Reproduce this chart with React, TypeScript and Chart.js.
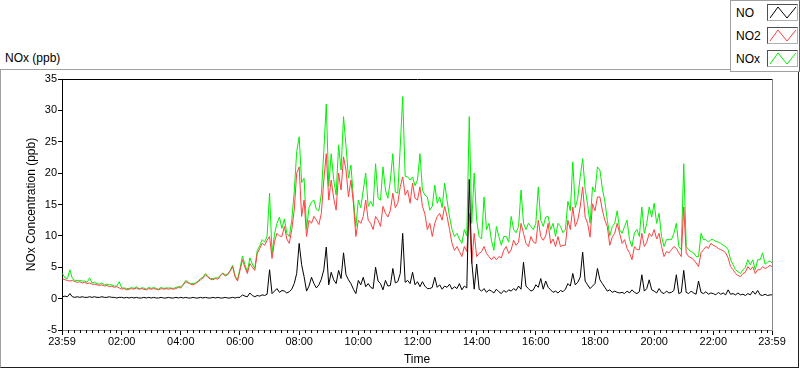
import React, { useEffect, useRef } from "react";
import { Chart, registerables } from "chart.js";

Chart.register(...registerables);

// Samples every 5 minutes, 00:00 .. 23:55, plus the final 23:59 reading
const SAMPLE_STEP_MIN = 5;
const LAST_MINUTE = 1439;

const NO_PPB = [
  0.3, 0.4, 0.3, 0.8, 0.3, 0.2, 0.3, 0.2, 0.3, 0.2, 0.2, 0.3,
  0.2, 0.3, 0.2, 0.2, 0.3, 0.2, 0.2, 0.3, 0.2, 0.2, 0.1, 0.2,
  0.2, 0.1, 0.2, 0.1, 0.2, 0.1, 0.2, 0.1, 0.1, 0.2, 0.1, 0.2,
  0.1, 0.2, 0.1, 0.1, 0.2, 0.1, 0.1, 0.2, 0.1, 0.1, 0.2, 0.1,
  0.2, 0.1, 0.2, 0.1, 0.1, 0.2, 0.1, 0.1, 0.2, 0.1, 0.2, 0.1,
  0.1, 0.2, 0.1, 0.2, 0.1, 0.1, 0.2, 0.1, 0.1, 0.2, 0.1, 0.2,
  0.2, 0.6, 0.4, 0.3, 0.9, 0.5, 0.3, 0.5, 0.4, 0.6, 0.5, 0.7,
  4.6, 0.8, 1.2, 1.6, 1.0, 1.3, 1.2, 0.9, 1.1, 1.5, 2.4, 4.0,
  8.8, 5.4, 3.5, 1.2, 2.0, 3.4, 2.4, 1.7, 2.2, 3.1, 4.6, 8.2,
  2.2, 4.2, 3.0, 2.4, 4.5, 3.2, 7.3, 3.8, 3.0, 2.4, 1.5, 0.8,
  2.9, 2.2, 3.4, 1.9, 2.4, 1.8, 1.6, 5.0, 2.8, 2.4, 1.4, 2.9,
  2.0, 2.1, 4.8, 2.5, 2.7, 4.0, 10.4, 2.6, 2.9, 2.4, 4.2, 2.2,
  2.7, 1.9, 2.7, 2.0, 1.6, 1.6, 1.8, 3.4, 1.8, 2.2, 1.5, 2.0,
  1.8, 2.3, 1.5, 1.9, 1.6, 2.4, 1.4, 2.0, 1.7, 19.0, 6.0, 1.5,
  5.5, 1.5, 1.2, 1.6, 1.0, 1.4, 1.2, 0.9, 1.5, 1.1, 0.8, 1.3,
  1.0, 1.4, 1.2, 1.6, 1.3, 2.0, 1.5, 5.8, 2.0, 1.6, 1.2, 1.4,
  2.2, 1.8, 3.2, 1.5, 2.8, 1.8, 1.4, 1.0, 1.2, 0.9, 1.3, 1.1,
  1.5, 2.4, 2.0, 4.0, 2.2, 2.6, 3.4, 7.4, 2.8, 2.2, 1.6, 2.0,
  2.4, 4.8, 3.0, 2.4, 1.8, 1.2, 1.4, 1.0, 1.2, 1.0, 0.9, 1.0,
  0.8, 1.2, 0.9, 1.4, 1.0, 0.8, 1.1, 3.8, 1.2, 1.6, 3.0, 1.4,
  1.2, 0.9, 1.6, 1.0, 0.8, 1.2, 0.9, 1.0, 1.3, 3.8, 0.8, 1.0,
  4.5, 1.0, 0.8, 1.2, 0.9, 0.7, 2.8, 1.0, 0.8, 1.1, 0.7, 0.9,
  0.8, 0.6, 1.0, 0.7, 0.9, 0.6, 1.4, 0.7, 0.8, 0.6, 0.9, 0.6,
  0.7, 0.5, 0.8, 0.6, 1.2, 0.7, 1.3, 0.6, 0.5, 0.7, 0.5, 0.6,
  0.6,
];

const NO2_PPB = [
  3.2, 3.0, 2.9, 2.8, 2.9, 2.7, 2.6, 2.7, 2.5, 2.6, 2.4, 2.5,
  2.3, 2.3, 2.2, 2.1, 2.2, 2.0, 2.1, 1.9, 2.0, 1.8, 1.9, 1.7,
  1.5, 1.6, 1.4, 1.5, 1.6, 1.5, 1.7, 1.5, 1.6, 1.5, 1.4, 1.6,
  1.5, 1.6, 1.5, 1.4, 1.6, 1.5, 1.6, 1.5, 1.6, 1.5, 1.6, 1.8,
  1.7, 2.2, 2.7, 2.5, 2.3, 2.2, 2.4, 2.7, 3.0, 3.3, 3.8, 3.4,
  3.1, 3.0, 3.2, 3.1, 3.6, 4.0, 3.6, 3.8, 4.4, 5.1, 3.5, 2.8,
  4.5, 6.2, 5.0, 4.0, 5.6, 5.0, 4.5, 7.2, 8.0, 8.8, 8.5, 9.3,
  9.9, 6.4, 9.1, 10.4, 10.0, 9.9, 11.5, 9.5, 8.8, 11.0, 14.1, 20.0,
  21.0, 13.1, 15.7, 9.9, 12.5, 12.0, 13.1, 12.5, 11.8, 13.6, 18.9, 23.1,
  15.7, 18.9, 16.0, 14.1, 20.0, 17.3, 22.6, 20.5, 16.2, 18.9, 15.2, 9.9,
  12.5, 12.0, 13.1, 15.7, 12.5, 12.0, 11.0, 13.1, 12.5, 11.5, 14.7, 13.6,
  13.0, 14.1, 16.8, 14.5, 15.2, 17.8, 19.4, 16.5, 17.3, 15.2, 18.4, 16.0,
  15.7, 17.8, 14.7, 13.5, 11.0, 12.0, 9.9, 12.0, 13.1, 13.6, 12.5, 14.7,
  13.1, 11.0, 8.8, 7.7, 8.3, 7.5, 6.7, 8.3, 7.5, 13.6, 5.6, 10.4,
  6.7, 7.2, 7.5, 8.3, 7.2, 6.7, 6.2, 6.7, 6.2, 6.7, 6.5, 7.7,
  8.3, 7.2, 7.8, 9.3, 8.5, 9.0, 12.0, 10.4, 8.8, 8.3, 9.9, 9.0,
  8.8, 12.5, 9.9, 9.3, 10.0, 12.0, 8.8, 9.5, 8.3, 9.9, 8.3, 8.5,
  8.5, 12.5, 11.0, 14.6, 11.5, 12.5, 14.6, 17.8, 13.0, 12.0, 9.8, 15.1,
  14.0, 16.2, 16.2, 14.1, 12.5, 11.5, 8.5, 9.8, 10.4, 12.0, 10.4, 8.8,
  9.4, 8.0, 7.3, 6.2, 8.3, 7.8, 7.8, 10.4, 8.3, 9.0, 10.4, 9.9,
  11.0, 9.5, 10.4, 8.3, 6.7, 7.5, 7.3, 7.8, 8.3, 8.0, 7.3, 6.7,
  14.6, 7.3, 6.7, 6.5, 6.2, 5.7, 5.1, 7.3, 7.8, 8.3, 8.0, 8.8,
  8.5, 8.3, 8.0, 7.8, 7.6, 7.3, 6.5, 5.1, 4.6, 4.0, 3.7, 3.5,
  4.0, 4.2, 5.1, 4.6, 5.1, 4.0, 4.6, 4.6, 5.1, 4.8, 5.0, 5.3,
  5.1,
];

const NOX_PPB = [
  4.0, 3.3, 3.2, 4.6, 3.2, 2.9, 2.9, 2.9, 2.8, 2.8, 2.6, 3.3,
  2.5, 2.6, 2.4, 2.3, 2.5, 2.2, 2.3, 2.2, 2.2, 2.0, 2.0, 2.7,
  1.7, 1.7, 1.6, 1.6, 1.8, 1.6, 1.9, 1.6, 1.7, 1.7, 1.5, 1.8,
  1.6, 1.8, 1.6, 1.5, 1.8, 1.6, 1.7, 1.7, 1.7, 1.6, 1.8, 1.9,
  1.9, 2.3, 2.9, 2.6, 2.4, 2.4, 2.5, 2.8, 3.2, 3.4, 4.0, 3.5,
  3.2, 3.2, 3.3, 3.3, 3.7, 4.1, 3.8, 3.9, 4.5, 5.3, 3.6, 3.0,
  4.8, 6.8, 5.4, 4.3, 6.5, 5.5, 4.8, 7.7, 8.4, 9.4, 9.0, 10.0,
  16.8, 7.2, 10.3, 12.0, 13.0, 11.2, 12.7, 10.4, 9.9, 12.5, 17.0, 23.4,
  25.8, 18.5, 19.2, 11.1, 14.5, 15.4, 15.7, 14.2, 14.0, 16.7, 23.5, 31.0,
  17.9, 23.1, 19.0, 16.5, 24.5, 20.5, 29.0, 24.3, 19.2, 21.3, 16.0, 11.5,
  15.7, 14.5, 17.3, 20.0, 14.7, 15.5, 14.7, 21.5, 16.0, 15.7, 21.0, 17.3,
  16.0, 18.9, 23.1, 17.0, 16.8, 24.2, 32.2, 19.5, 19.4, 18.9, 19.4, 18.0,
  18.9, 23.1, 17.3, 16.5, 16.2, 14.1, 14.7, 18.1, 15.2, 16.2, 14.5, 18.4,
  15.7, 13.0, 11.0, 9.9, 10.4, 9.5, 8.8, 11.0, 10.0, 29.0, 12.0, 20.0,
  12.5, 9.9, 9.5, 16.2, 11.0, 12.0, 9.3, 7.7, 11.5, 9.9, 8.5, 9.9,
  9.9, 9.0, 13.1, 11.0, 10.5, 11.5, 17.3, 12.0, 11.0, 12.0, 11.5, 11.0,
  12.0, 17.8, 12.5, 11.5, 13.0, 13.1, 11.0, 12.0, 9.9, 12.0, 11.5, 10.5,
  11.0, 15.5, 14.0, 21.8, 14.5, 16.0, 19.4, 22.3, 17.5, 15.0, 12.0, 17.8,
  17.0, 21.0, 20.5, 17.5, 15.5, 12.5, 10.0, 11.5, 12.0, 14.0, 11.0, 10.4,
  11.5, 12.5, 9.4, 8.3, 10.5, 11.0, 9.9, 14.6, 10.4, 12.0, 14.6, 13.0,
  15.2, 12.0, 13.6, 9.9, 8.3, 9.4, 9.4, 9.4, 10.4, 12.0, 8.3, 7.8,
  21.5, 8.3, 7.8, 7.5, 7.3, 6.7, 6.7, 10.4, 9.4, 9.4, 9.0, 9.4,
  9.4, 9.1, 9.0, 8.8, 8.5, 8.3, 7.8, 6.2, 5.4, 4.6, 4.3, 4.0,
  4.6, 5.0, 6.2, 5.4, 6.2, 4.6, 6.2, 6.2, 7.3, 5.5, 5.8, 6.0,
  5.7,
];

const X_TICK_MINUTES = [-1, 120, 240, 360, 480, 600, 720, 840, 960, 1080, 1200, 1320, 1439];
const X_TICK_LABELS = ["23:59", "02:00", "04:00", "06:00", "08:00", "10:00", "12:00", "14:00", "16:00", "18:00", "20:00", "22:00", "23:59"];
const X_MINOR_STEP = 12;

const Y_MIN = -5;
const Y_MAX = 35;
const Y_STEP = 5;

const SERIES_NAMES = ["NO", "NO2", "NOx"];
const SERIES_COLORS = ["#000000", "#ff4040", "#00f000"];

const FONT = "'Liberation Sans', Arial, sans-serif";

function toPoints(values: number[]) {
  return values.map((v, i) => ({ x: Math.min(i * SAMPLE_STEP_MIN, LAST_MINUTE), y: v }));
}

const framePlugin = {
  id: "labviewFrame",
  afterDraw(chart: any) {
    const { ctx, chartArea, scales } = chart;
    const { left, right, top, bottom } = chartArea;
    const x = scales.x;
    ctx.save();
    ctx.lineWidth = 1;
    ctx.strokeStyle = "#000";
    ctx.beginPath();
    for (let m = X_MINOR_STEP; m < LAST_MINUTE; m += X_MINOR_STEP) {
      if (m % 120 === 0) continue;
      const px = Math.round(x.getPixelForValue(m)) + 0.5;
      ctx.moveTo(px, bottom);
      ctx.lineTo(px, bottom + 3);
    }
    ctx.stroke();
    ctx.beginPath();
    ctx.moveTo(left, Math.round(top) + 0.5);
    ctx.lineTo(right + 1, Math.round(top) + 0.5);
    ctx.stroke();
    ctx.strokeStyle = "#8a8a8a";
    ctx.beginPath();
    ctx.moveTo(Math.round(right) + 0.5, top);
    ctx.lineTo(Math.round(right) + 0.5, bottom);
    ctx.stroke();
    ctx.restore();
  },
};

function LegendIcon({ color }: { color: string }) {
  return (
    <svg width={30} height={15} style={{ display: "block" }}>
      <polyline points="2,13 10,2 19,13 28,2" fill="none" stroke={color} strokeWidth={1} />
    </svg>
  );
}

export default function App() {
  const canvasRef = useRef<HTMLCanvasElement | null>(null);

  useEffect(() => {
    const canvas = canvasRef.current;
    if (!canvas) return;
    const seriesValues = [NO_PPB, NO2_PPB, NOX_PPB];
    const chart = new Chart(canvas, {
      type: "line",
      data: {
        datasets: seriesValues.map((vals, i) => ({
          label: SERIES_NAMES[i],
          data: toPoints(vals),
          borderColor: SERIES_COLORS[i],
          backgroundColor: SERIES_COLORS[i],
          borderWidth: 1,
          pointRadius: 0,
          tension: 0,
          fill: false,
        })),
      },
      options: {
        animation: false,
        responsive: false,
        devicePixelRatio: 1,
        parsing: false as any,
        normalized: true,
        layout: { padding: { left: 0, top: 9, right: 26, bottom: 0 } },
        plugins: { legend: { display: false }, tooltip: { enabled: false } },
        scales: {
          x: {
            type: "linear",
            min: -1,
            max: LAST_MINUTE,
            afterBuildTicks(scale: any) {
              scale.ticks = X_TICK_MINUTES.map((v) => ({ value: v }));
            },
            afterFit(scale: any) {
              scale.height = 36;
            },
            grid: { drawOnChartArea: false, drawTicks: true, tickLength: 5, tickColor: "#000", color: "#000" },
            border: { display: true, color: "#8a8a8a" },
            ticks: {
              autoSkip: false,
              maxRotation: 0,
              padding: 0,
              color: "#000",
              font: { family: FONT, size: 11 },
              callback: (_v: any, i: number) => X_TICK_LABELS[i] ?? "",
            },
            title: {
              display: true,
              text: "Time",
              color: "#000",
              font: { family: FONT, size: 12 },
              padding: { top: 0, bottom: -1 },
            },
          },
          y: {
            min: Y_MIN,
            max: Y_MAX,
            afterFit(scale: any) {
              scale.width = 61;
            },
            grid: { drawOnChartArea: false, drawTicks: true, tickLength: 4, tickColor: "#000", color: "#000" },
            border: { display: true, color: "#000" },
            ticks: {
              stepSize: Y_STEP,
              padding: 1,
              color: "#000",
              font: { family: FONT, size: 11 },
            },
            title: {
              display: true,
              text: "NOx Concentration (ppb)",
              color: "#000",
              font: { family: FONT, size: 12 },
              padding: { top: 23, bottom: 0 },
            },
          },
        },
      } as any,
      plugins: [framePlugin],
    });
    return () => chart.destroy();
  }, []);

  const rowTops = [4, 27, 50];

  return (
    <div style={{ position: "fixed", left: 0, top: 0, width: 800, height: 369, background: "#fff", overflow: "hidden", fontFamily: FONT }}>
      <div style={{ position: "absolute", left: 5, top: 51, fontSize: 12, lineHeight: "14px", color: "#000", whiteSpace: "nowrap" }}>
        NOx (ppb)
      </div>
      <div
        style={{
          position: "absolute",
          left: 0,
          top: 69,
          width: 799,
          height: 299,
          boxSizing: "border-box",
          borderTop: "1px solid #a0a0a0",
          borderLeft: "1px solid #a0a0a0",
          borderRight: "1px solid #202020",
          borderBottom: "1px solid #202020",
        }}
      />
      <canvas
        ref={canvasRef}
        width={797}
        height={296}
        style={{ position: "absolute", left: 1, top: 70, width: 797, height: 296 }}
      />
      <div
        style={{
          position: "absolute",
          left: 730,
          top: 0,
          width: 70,
          height: 72,
          boxSizing: "border-box",
          background: "#fff",
          border: "1px solid #a0a0a0",
          borderRight: "1px solid #606060",
        }}
      >
        {SERIES_NAMES.map((name, i) => (
          <React.Fragment key={name}>
            <div style={{ position: "absolute", left: 5, top: rowTops[i] + 1, fontSize: 12, lineHeight: "14px", color: "#000" }}>{name}</div>
            <div
              style={{
                position: "absolute",
                left: 36,
                top: rowTops[i] - 1,
                width: 31,
                height: 17,
                boxSizing: "border-box",
                borderTop: "1px solid #505050",
                borderLeft: "1px solid #505050",
                borderRight: "1px solid #b0b0b0",
                borderBottom: "1px solid #b0b0b0",
                background: "#fff",
              }}
            >
              <LegendIcon color={SERIES_COLORS[i]} />
            </div>
          </React.Fragment>
        ))}
      </div>
    </div>
  );
}
